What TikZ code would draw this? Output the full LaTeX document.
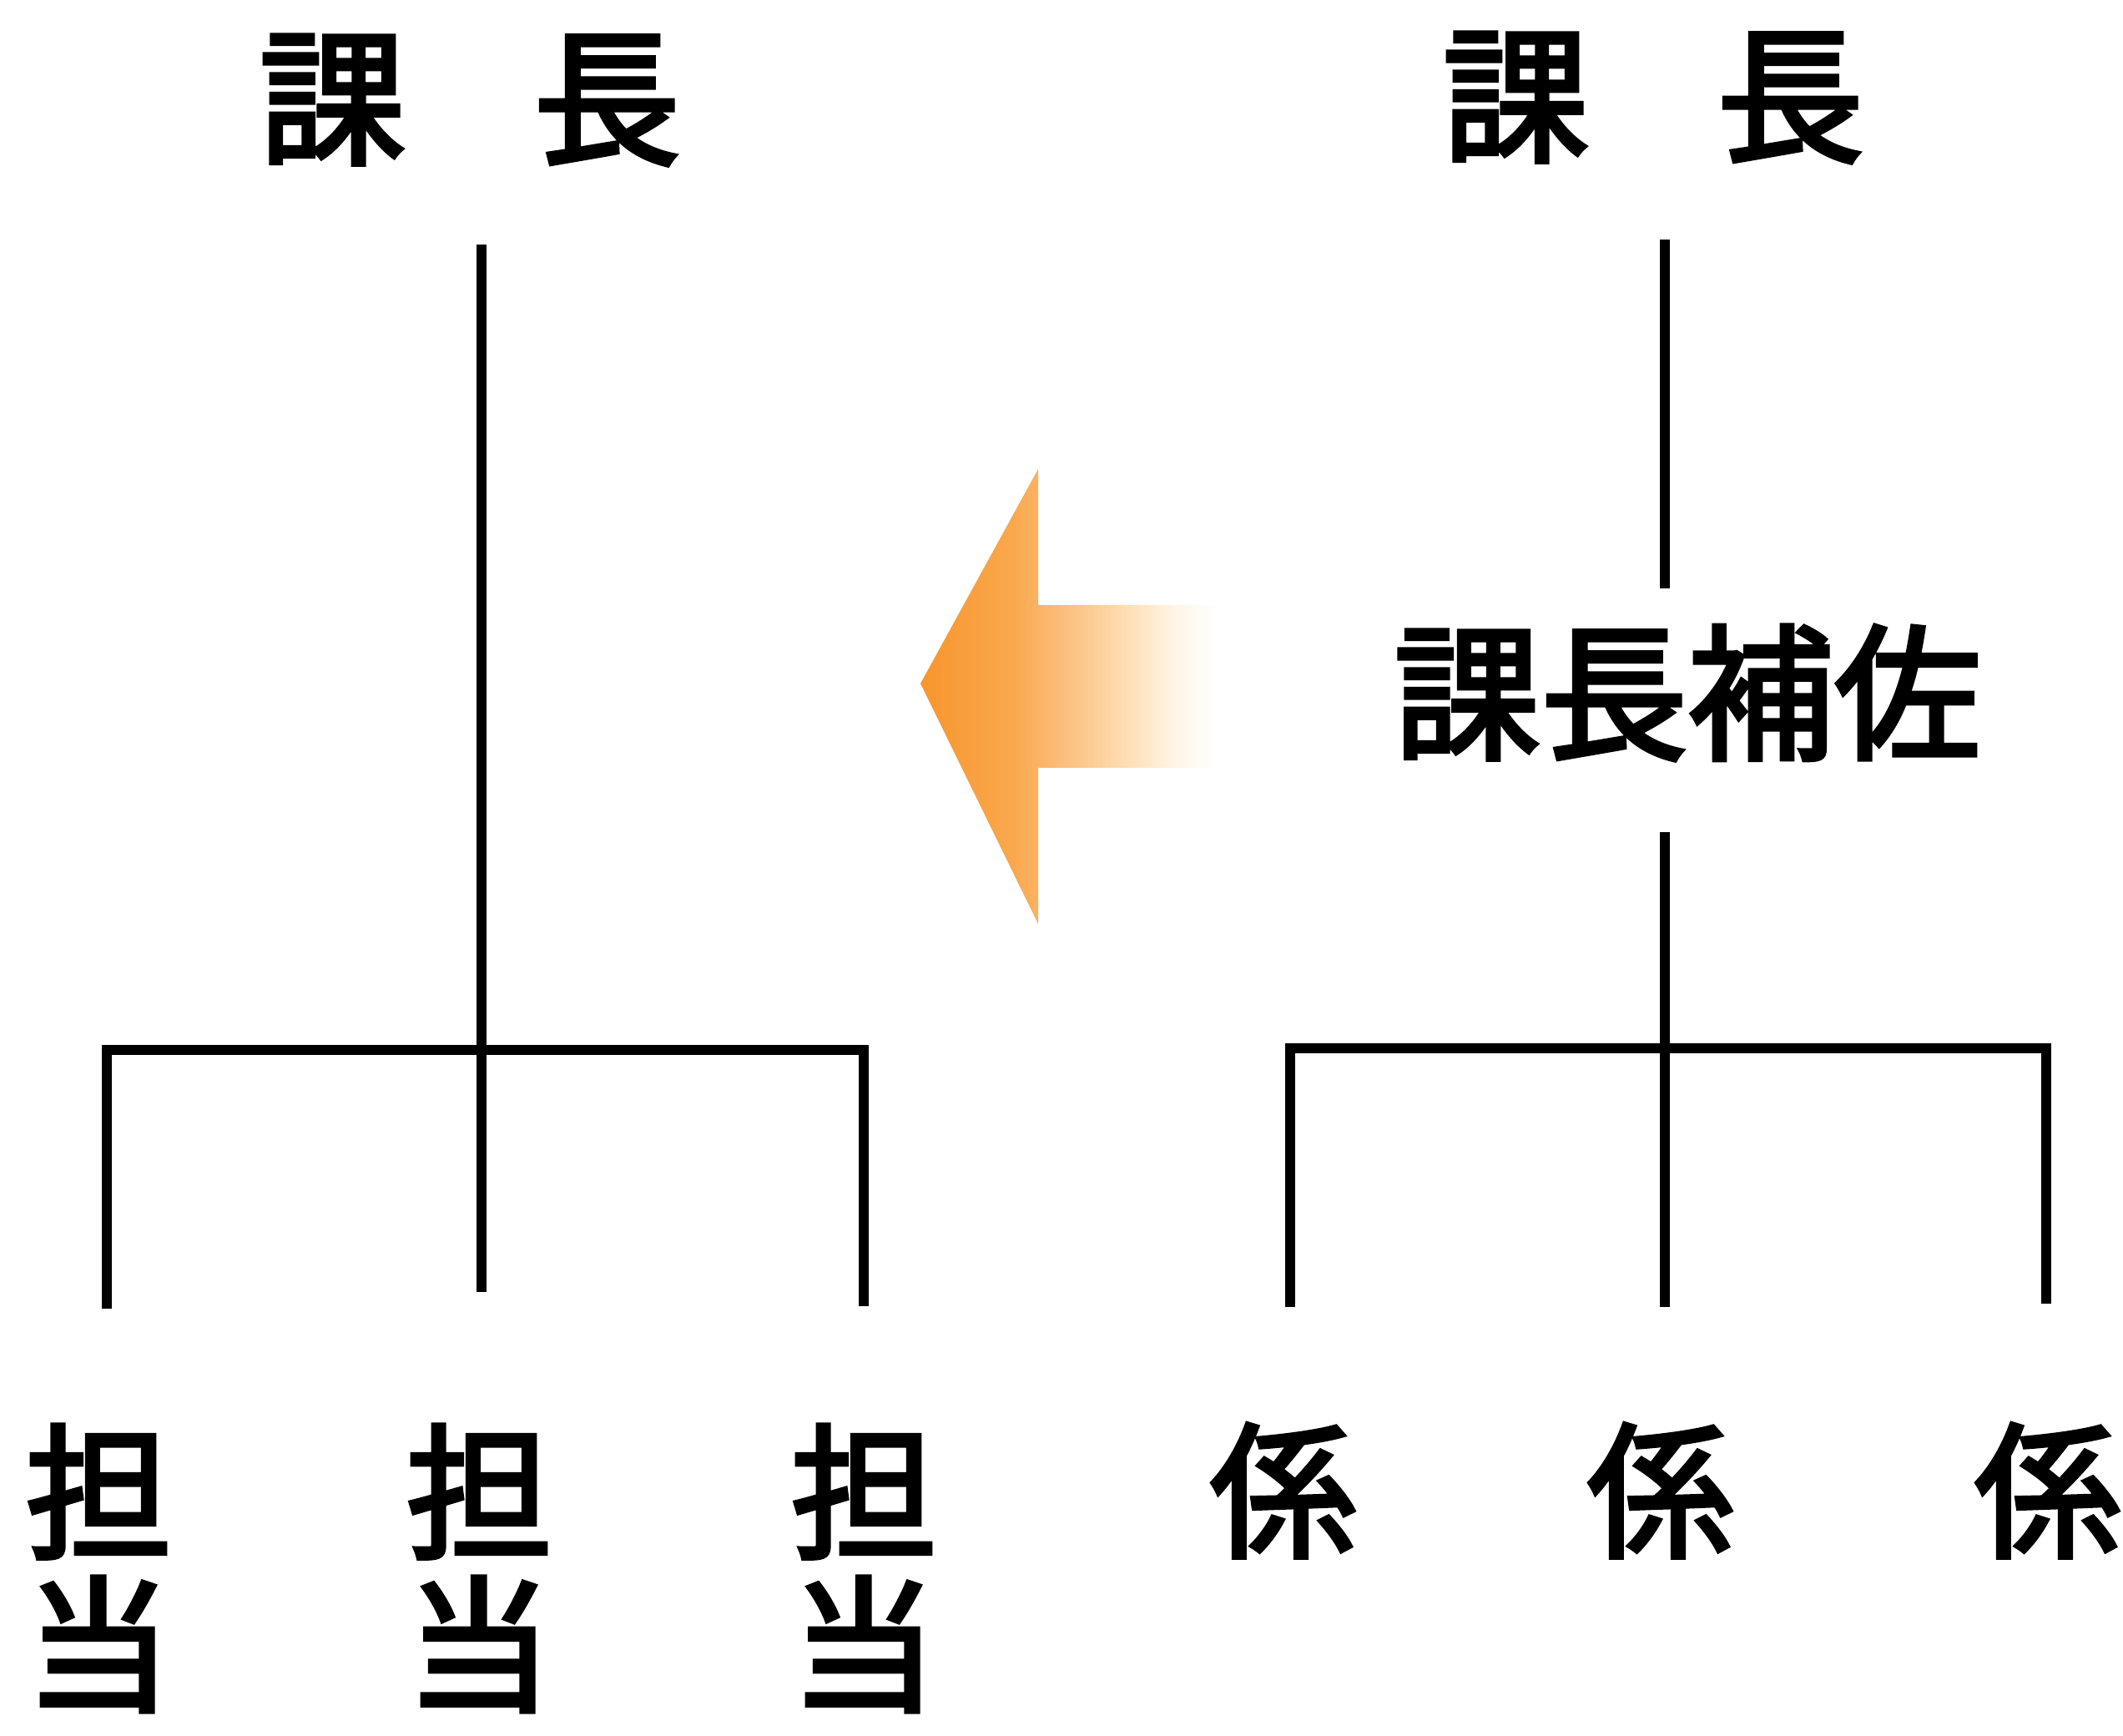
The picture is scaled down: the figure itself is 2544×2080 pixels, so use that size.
\documentclass[tikz,border=0pt]{standalone}
\usepackage{fontspec}
\newfontfamily\jp[FakeBold=3]{Noto Sans CJK JP}
\definecolor{ac0}{RGB}{247,150,45}
\definecolor{ac1}{RGB}{250,168,78}
\definecolor{ac2}{RGB}{252,190,125}
\definecolor{ac3}{RGB}{254,222,180}
\definecolor{ac4}{RGB}{255,245,232}
\pgfdeclarehorizontalshading{arrowshade}{100bp}{color(0bp)=(ac0); color(25bp)=(ac0); color(40bp)=(ac1); color(48bp)=(ac2); color(58bp)=(ac3); color(66bp)=(ac4); color(73bp)=(white); color(100bp)=(white)}
\begin{document}
\begin{tikzpicture}[x=0.01cm,y=-0.01cm,
  lbl/.style={font=\jp\fontsize{50}{51.8}\selectfont, inner sep=0pt, text=black},
  col/.style={lbl, align=center},
  tree/.style={line width=3.2pt, draw=black, line cap=butt},
  treeh/.style={tree, line cap=rect}]
\useasboundingbox (0,0) rectangle (2544,2080);

% labels
\node[lbl] (ltitle) at (563,120) {課\hspace{0.87em}長};
\node[lbl] (rtitle) at (1981,117) {課\hspace{0.87em}長};
\node[lbl] (hosa) at (2022,830) {課長補佐};
\node[col] (t1) at (118,1879) {担\\当};
\node[col] (t2) at (574,1879) {担\\当};
\node[col] (t3) at (1035,1879) {担\\当};
\node[lbl] (k1) at (1538,1786) {係};
\node[lbl] (k2) at (1990,1786) {係};
\node[lbl] (k3) at (2454,1786) {係};

% left tree
\coordinate (la) at (577,293);
\coordinate (lj) at (577,1258);
\coordinate (lh1) at (128,1258);
\coordinate (lh3) at (1035,1258);
\coordinate (lb1) at (128,1568);
\coordinate (lb2) at (577,1548);
\coordinate (lb3) at (1035,1565);
\draw[tree] (la) -- (lj);
\draw[tree] (lj) -- (lb2);
\draw[treeh] (lh1) -- (lj);
\draw[treeh] (lj) -- (lh3);
\draw[tree] (lh1) -- (lb1);
\draw[tree] (lh3) -- (lb3);

% right tree
\coordinate (ra) at (1995,287);
\coordinate (rb) at (1995,705);
\coordinate (rc) at (1995,997);
\coordinate (rj) at (1995,1256);
\coordinate (rh1) at (1546,1256);
\coordinate (rh3) at (2452,1256);
\coordinate (rb1) at (1546,1566);
\coordinate (rb2) at (1995,1566);
\coordinate (rb3) at (2452,1562);
\draw[tree] (ra) -- (rb);
\draw[tree] (rc) -- (rj);
\draw[tree] (rj) -- (rb2);
\draw[treeh] (rh1) -- (rj);
\draw[treeh] (rj) -- (rh3);
\draw[tree] (rh1) -- (rb1);
\draw[tree] (rh3) -- (rb3);

% orange arrow
\shade[shading=arrowshade] (1103,819) -- (1244,562) -- (1244,725) -- (1476,725)
  -- (1476,920) -- (1244,920) -- (1244,1107) -- cycle;
\end{tikzpicture}
\end{document}
